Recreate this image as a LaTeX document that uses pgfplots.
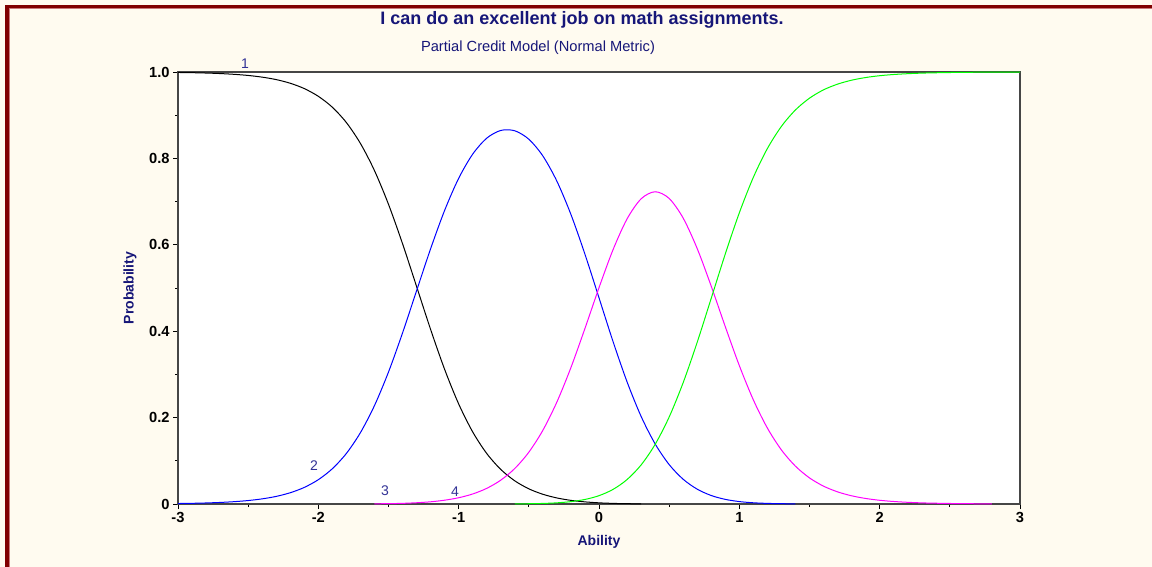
\documentclass[border=0pt]{standalone}
\usepackage{pgfplots}
\pgfplotsset{compat=1.18}
\usepackage{fontspec}
\setmainfont{Liberation Sans}

\definecolor{bgcream}{RGB}{255,251,240}
\definecolor{frame}{RGB}{128,0,0}
\definecolor{framelight}{RGB}{200,120,120}
\definecolor{navy}{RGB}{22,22,120}
\definecolor{catlabel}{RGB}{50,50,150}
\definecolor{axisgray}{RGB}{70,70,70}
\definecolor{cat1}{RGB}{0,0,0}
\definecolor{cat2}{RGB}{0,0,255}
\definecolor{cat3}{RGB}{255,0,255}
\definecolor{cat4}{RGB}{0,255,0}

\begin{document}
\begin{tikzpicture}
% window background and frame (1 px = 0.75 pt)
\fill[bgcream] (0pt,0pt) rectangle (864pt,425.25pt);
\fill[frame] (3.75pt,0pt) rectangle (6.75pt,421.5pt);
\fill[frame] (3.75pt,421.5pt) rectangle (864pt,419.6pt);
\fill[framelight] (6.75pt,0pt) rectangle (7.5pt,419.6pt);
\fill[framelight] (6.75pt,419.6pt) rectangle (864pt,418.9pt);

% titles
\node[font=\fontsize{13.5pt}{15pt}\selectfont\bfseries, text=navy] at (436.5pt,410.5pt)
  {I can do an excellent job on math assignments.};
\node[font=\fontsize{11pt}{12pt}\selectfont, text=navy] at (403.5pt,389.5pt)
  {Partial Credit Model (Normal Metric)};

\begin{axis}[
  at={(133.5pt,47.25pt)}, anchor=south west,
  scale only axis, width=631.5pt, height=324pt,
  xmin=-3, xmax=3, ymin=0, ymax=1,
  axis background/.style={fill=white},
  axis line style={draw=axisgray, line width=0.9pt},
  clip=false,
  xtick={-3,-2,-1,0,1,2,3},
  xticklabels={-3,-2,-1,0,1,2,3},
  ytick={0,0.2,0.4,0.6,0.8,1.0},
  yticklabels={0,0.2,0.4,0.6,0.8,1.0},
  minor x tick num=1, minor y tick num=1,
  xtick pos=bottom, ytick pos=left,
  tick align=outside,
  major tick length=3.75pt, minor tick length=2.25pt,
  tick style={draw=black, line width=0.6pt},
  ticklabel style={font=\fontsize{11pt}{12pt}\selectfont\bfseries, text=black},
  xticklabel style={yshift=1pt},
  yticklabel style={xshift=1pt},
  xlabel={Ability}, ylabel={Probability},
  label style={font=\fontsize{10.5pt}{12pt}\selectfont\bfseries, text=navy},
  xlabel style={at={(rel axis cs:0.5,0)}, anchor=center, yshift=-28.5pt},
  ylabel style={at={(rel axis cs:0,0.5)}, anchor=center, yshift=36pt},
  every axis plot/.append style={line width=0.75pt, smooth, tension=0.5},
]
% category 1
\addplot[cat1] coordinates {
(-3,0.9989) (-2.9,0.9984) (-2.8,0.9976) (-2.7,0.9964) (-2.6,0.9946) (-2.5,0.9920)
(-2.4,0.9881) (-2.3,0.9824) (-2.2,0.9739) (-2.1,0.9616) (-2.0,0.9437) (-1.9,0.9184)
(-1.8,0.8829) (-1.7,0.8346) (-1.6,0.7718) (-1.5,0.6937) (-1.4,0.6026) (-1.3,0.5036)
(-1.2,0.4041) (-1.1,0.3116) (-1.0,0.2316) (-0.9,0.1668) (-0.8,0.1169) (-0.7,0.0800)
(-0.6,0.0536) (-0.5,0.0351) (-0.4,0.0225) (-0.3,0.0140) (-0.2,0.0084) (-0.1,0.0049)
(0,0.0027) (0.1,0.0014) (0.2,0.0007) (0.3,0.0003)
};
% category 2
\addplot[cat2] coordinates {
(-3,0.0011) (-2.9,0.0016) (-2.8,0.0024) (-2.7,0.0036) (-2.6,0.0054) (-2.5,0.0080)
(-2.4,0.0119) (-2.3,0.0176) (-2.2,0.0261) (-2.1,0.0384) (-2.0,0.0563) (-1.9,0.0817)
(-1.8,0.1171) (-1.7,0.1652) (-1.6,0.2278) (-1.5,0.3055) (-1.4,0.3959) (-1.3,0.4936)
(-1.2,0.5908) (-1.1,0.6797) (-1.0,0.7539) (-0.9,0.8099) (-0.8,0.8468) (-0.7,0.8647)
(-0.6,0.8639) (-0.5,0.8444) (-0.4,0.8056) (-0.3,0.7472) (-0.2,0.6702) (-0.1,0.5781)
(0,0.4773) (0.1,0.3761) (0.2,0.2827) (0.3,0.2028) (0.4,0.1391) (0.5,0.0912)
(0.6,0.0572) (0.7,0.0343) (0.8,0.0196) (0.9,0.0107) (1.0,0.0056) (1.1,0.0028)
(1.2,0.0014) (1.3,0.0007) (1.4,0.0003)
};
% category 3
\addplot[cat3] coordinates {
(-1.6,0.0004) (-1.5,0.0008) (-1.4,0.0015) (-1.3,0.0029) (-1.2,0.0051) (-1.1,0.0088)
(-1.0,0.0145) (-0.9,0.0232) (-0.8,0.0362) (-0.7,0.0552) (-0.6,0.0822) (-0.5,0.1199)
(-0.4,0.1706) (-0.3,0.2361) (-0.2,0.3159) (-0.1,0.4065) (0,0.5007) (0.1,0.5886)
(0.2,0.6600) (0.3,0.7064) (0.4,0.7228) (0.5,0.7073) (0.6,0.6617) (0.7,0.5911)
(0.8,0.5039) (0.9,0.4104) (1.0,0.3203) (1.1,0.2409) (1.2,0.1757) (1.3,0.1251)
(1.4,0.0875) (1.5,0.0604) (1.6,0.0413) (1.7,0.0281) (1.8,0.0190) (1.9,0.0128)
(2.0,0.0086) (2.1,0.0058) (2.2,0.0039) (2.3,0.0026) (2.4,0.0018) (2.5,0.0012)
(2.6,0.0008) (2.7,0.0005) (2.8,0.0004)
};
% category 4
\addplot[cat4] coordinates {
(-0.6,0.0003) (-0.5,0.0006) (-0.4,0.0013) (-0.3,0.0027) (-0.2,0.0055) (-0.1,0.0105)
(0,0.0193) (0.1,0.0338) (0.2,0.0566) (0.3,0.0904) (0.4,0.1380) (0.5,0.2014)
(0.6,0.2811) (0.7,0.3746) (0.8,0.4765) (0.9,0.5789) (1.0,0.6741) (1.1,0.7563)
(1.2,0.8229) (1.3,0.8742) (1.4,0.9122) (1.5,0.9394) (1.6,0.9587) (1.7,0.9719)
(1.8,0.9810) (1.9,0.9872) (2.0,0.9914) (2.1,0.9942) (2.2,0.9961) (2.3,0.9974)
(2.4,0.9982) (2.5,0.9988) (2.6,0.9992) (2.7,0.9995) (2.8,0.9996) (2.9,0.9998)
(3.0,0.9998)
};
% category labels
\begin{scope}[every node/.style={font=\fontsize{10.5pt}{12pt}\selectfont, text=catlabel}]
\node at (axis cs:-2.523,1.019) {1};
\node at (axis cs:-2.031,0.088) {2};
\node at (axis cs:-1.525,0.030) {3};
\node at (axis cs:-1.026,0.028) {4};
\end{scope}
\end{axis}
\end{tikzpicture}
\end{document}
